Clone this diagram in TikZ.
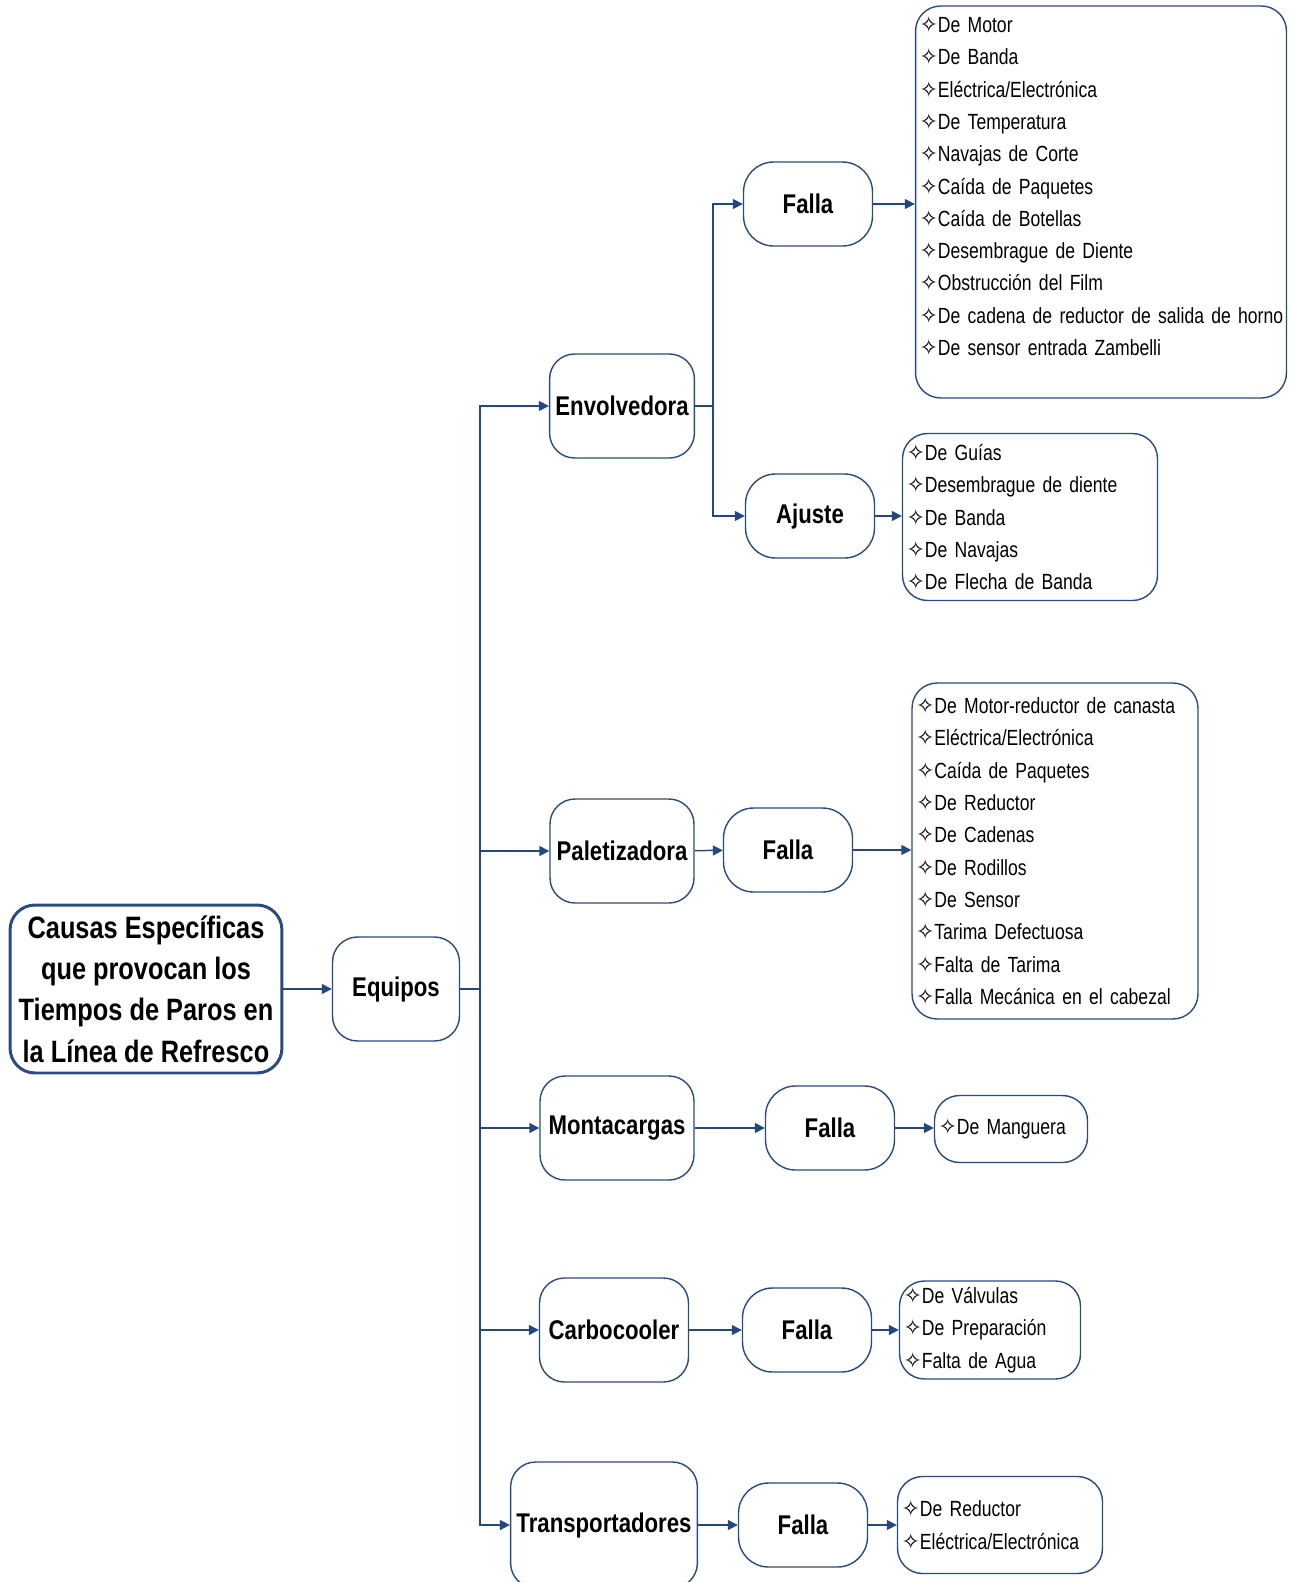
\documentclass[tikz,border=0pt]{standalone}
\usepackage{fontspec}
\setmainfont{Liberation Sans}[FakeStretch=0.82]
\newfontfamily\listfont{Liberation Sans}[FakeStretch=0.8]
\newfontfamily\symfont{DejaVu Sans}
\usepackage{tikz}
\usetikzlibrary{positioning,arrows.meta}
\definecolor{NodeBlue}{HTML}{2B4A80}
\definecolor{LineBlue}{HTML}{24487E}
\newcommand{\marca}{{\symfont\fontsize{12.5}{12.5}\selectfont ✧}}

\begin{document}
\begin{tikzpicture}[x=0.02cm, y=-0.02cm,
  caja/.style={draw=NodeBlue, line width=.8pt, rounded corners=0.5cm, align=center, font=\bfseries\fontsize{15.4}{19}\selectfont},
  falla/.style={caja, rounded corners=0.6cm, minimum width=2.58cm, minimum height=1.68cm},
  equipo/.style={caja, minimum height=2.08cm},
  lista/.style={draw=NodeBlue, line width=.8pt, rounded corners=0.5cm, align=left, inner xsep=0.8mm, font=\listfont\fontsize{12.5}{18.4}\selectfont},
  arr/.style={draw=LineBlue, line width=.85pt, -{Triangle[length=2mm,width=2mm]}},
  lin/.style={draw=LineBlue, line width=.85pt}]
\useasboundingbox (0,0) rectangle (1295,1582);
\clip (0,0) rectangle (1295,1582);

\node[caja, line width=1.7pt, minimum width=5.44cm, minimum height=3.36cm, font=\bfseries\fontsize{17.6}{23.6}\selectfont] (causas) at (146,989)
  {Causas Específicas\\que provocan los\\Tiempos de Paros en\\la Línea de Refresco};
\node[equipo, minimum width=2.54cm] (equipos) at (396,989) {Equipos};

\node[equipo, minimum width=2.88cm] (envol) at (622,406) {Envolvedora};
\node[equipo, minimum width=2.88cm] (palet) at (622,851) {Paletizadora};
\node[equipo, minimum width=3.08cm] (monta) at (617,1128) {Montacargas};
\node[equipo, minimum width=2.98cm] (carbo) at (614,1330) {Carbocooler};
\node[equipo, minimum width=3.72cm, minimum height=2.52cm] (transp) at (604,1525) {Transportadores};

\node[falla] (fenv) at (808,204) {Falla};
\node[falla] (ajuste) at (810,516) {Ajuste};
\node[falla] (fpal) at (788,850) {Falla};
\node[falla] (fmon) at (830,1128) {Falla};
\node[falla] (fcar) at (807,1330) {Falla};
\node[falla] (ftra) at (803,1525) {Falla};

\node[lista, text width=7.26cm, minimum height=7.84cm] (lenv) at (1101,202)
  {\marca De Motor\\\marca De Banda\\\marca Eléctrica/Electrónica\\\marca De Temperatura\\\marca Navajas de Corte\\\marca Caída de Paquetes\\\marca Caída de Botellas\\\marca Desembrague de Diente\\\marca Obstrucción del Film\\\mbox{\marca De cadena de reductor de salida de horno}\\\marca De sensor entrada Zambelli\\~};
\node[lista, text width=4.94cm, minimum height=3.34cm] (lajus) at (1030,517)
  {\marca De Guías\\\marca Desembrague de diente\\\marca De Banda\\\marca De Navajas\\\marca De Flecha de Banda};
\node[lista, text width=5.56cm, minimum height=6.72cm] (lpal) at (1055,851)
  {\marca De Motor-reductor de canasta\\\marca Eléctrica/Electrónica\\\marca Caída de Paquetes\\\marca De Reductor\\\marca De Cadenas\\\marca De Rodillos\\\marca De Sensor\\\marca Tarima Defectuosa\\\marca Falta de Tarima\\\marca Falla Mecánica en el cabezal};
\node[lista, text width=2.9cm, minimum height=1.34cm] (lmon) at (1011,1129)
  {\marca De Manguera};
\node[lista, text width=3.46cm, minimum height=1.96cm] (lcar) at (990,1330)
  {\marca De Válvulas\\\marca De Preparación\\\marca Falta de Agua};
\node[lista, text width=3.94cm, minimum height=1.94cm] (ltra) at (1000,1525)
  {\marca De Reductor\\\marca Eléctrica/Electrónica};

\coordinate (tronco) at (480,989);
\coordinate (rama) at (713,406);

\draw[arr] (causas) -- (equipos);
\draw[lin] (equipos.east) -- (tronco);
\draw[lin] (tronco) -- (tronco |- transp.west);
\foreach \eq in {envol,palet,monta,carbo,transp}
  \draw[arr] (tronco) |- (\eq.west);

\draw[lin] (envol.east) -- (rama);
\draw[arr] (rama) |- (fenv.west);
\draw[arr] (rama) |- (ajuste.west);

\draw[arr] (palet) -- (fpal);
\draw[arr] (monta) -- (fmon);
\draw[arr] (carbo) -- (fcar);
\draw[arr] (transp) -- (ftra);

\draw[arr] (fenv.east) -- (fenv.east -| lenv.west);
\draw[arr] (ajuste.east) -- (ajuste.east -| lajus.west);
\draw[arr] (fpal.east) -- (fpal.east -| lpal.west);
\draw[arr] (fmon.east) -- (fmon.east -| lmon.west);
\draw[arr] (fcar.east) -- (fcar.east -| lcar.west);
\draw[arr] (ftra.east) -- (ftra.east -| ltra.west);
\end{tikzpicture}
\end{document}
